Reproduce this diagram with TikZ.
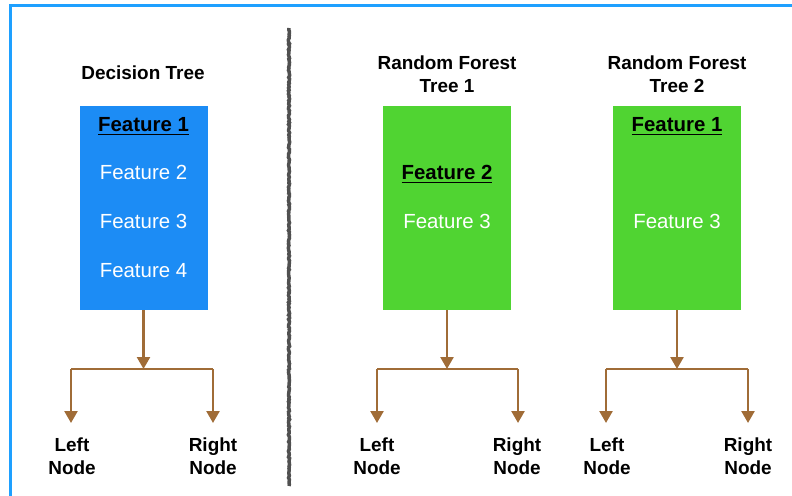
\documentclass[tikz,border=0pt]{standalone}
\usepackage{fontspec}
\setmainfont{Liberation Sans}
\usetikzlibrary{arrows.meta,decorations.pathmorphing}

\definecolor{framecol}{RGB}{30,160,255}
\definecolor{dtblue}{RGB}{28,140,245}
\definecolor{rfgreen}{RGB}{80,212,50}
\definecolor{branchbrown}{RGB}{160,108,55}
\definecolor{divgray}{RGB}{80,80,80}

% thick underline for the feature chosen at the split
\newcommand{\splitfeat}[1]{\setbox0\hbox{#1}\rlap{\rule[-3.5bp]{\wd0}{1.6bp}}\box0}

\tikzset{
	treetitle/.style={font=\bfseries\fontsize{19}{23}\selectfont, align=center, inner sep=0pt},
	treebox/.style={minimum width=128bp, minimum height=204bp, inner sep=0pt},
	feat/.style={font=\fontsize{20.5}{24}\selectfont, text=white, anchor=base, inner sep=0pt},
	bestfeat/.style={feat, font=\bfseries\fontsize{20.5}{24}\selectfont, text=black},
	leaf/.style={font=\bfseries\fontsize{19}{23}\selectfont, align=center, inner sep=0pt},
	branch/.style={draw=branchbrown, line width=2.5bp},
	brancharrow/.style={branch, -{Triangle[width=13bp,length=12bp]}},
}

\begin{document}
\begin{tikzpicture}[x=1bp, y=-1bp, line cap=butt, line join=miter]
	
	\useasboundingbox (0,0) rectangle (792,496);
	
	% ---------- frame ----------
	\draw[framecol, line width=3bp] (10,496) -- (10,6) -- (792,6);
	
	% ---------- divider ----------
	\draw[divgray, line width=3.5bp,
	decorate, decoration={random steps, segment length=1.5bp, amplitude=0.6bp}]
	(289,28) -- (289,486);
	
	% ---------- Decision tree ----------
	\node[treetitle] (dtTitle) at (143,73) {Decision Tree};
	\node[treebox, fill=dtblue] (dtBox) at (143.5,208) {};
	\node[bestfeat] (dtF1) at (143.5,132) {\splitfeat{Feature 1}};
	\node[feat] (dtF2) at (143.5,180) {Feature 2};
	\node[feat] (dtF3) at (143.5,228.5) {Feature 3};
	\node[feat] (dtF4) at (143.5,277.5) {Feature 4};
	
	% split
	\coordinate (dtSplit) at (143.5,369);
	\coordinate (dtL) at (71,369);
	\coordinate (dtR) at (213,369);
	\node[leaf] (dtLeft) at (72,456) {Left\\Node};
	\node[leaf] (dtRight) at (213,456) {Right\\Node};
	
	\draw[brancharrow] (dtBox.south) -- (dtSplit);
	\draw[branch] (dtL) -- (dtR);
	\draw[brancharrow] (dtL) -- (dtL |- 0,423);
	\draw[brancharrow] (dtR) -- (dtR |- 0,423);
	
	% ---------- Random forest, tree 1 ----------
	\node[treetitle] (rfaTitle) at (447,74) {Random Forest\\Tree 1};
	\node[treebox, fill=rfgreen] (rfaBox) at (447,208) {};
	\node[bestfeat] (rfaF2) at (447,180) {\splitfeat{Feature 2}};
	\node[feat] (rfaF3) at (447,228.5) {Feature 3};
	
	% split
	\coordinate (rfaSplit) at (447,369);
	\coordinate (rfaL) at (377,369);
	\coordinate (rfaR) at (518,369);
	\node[leaf] (rfaLeft) at (377,456) {Left\\Node};
	\node[leaf] (rfaRight) at (517,456) {Right\\Node};
	
	\draw[brancharrow] (rfaBox.south) -- (rfaSplit);
	\draw[branch] (rfaL) -- (rfaR);
	\draw[brancharrow] (rfaL) -- (rfaL |- 0,423);
	\draw[brancharrow] (rfaR) -- (rfaR |- 0,423);
	
	% ---------- Random forest, tree 2 ----------
	\node[treetitle] (rfbTitle) at (677,74) {Random Forest\\Tree 2};
	\node[treebox, fill=rfgreen] (rfbBox) at (677,208) {};
	\node[bestfeat] (rfbF1) at (677,132) {\splitfeat{Feature 1}};
	\node[feat] (rfbF3) at (677,228.5) {Feature 3};
	
	% split
	\coordinate (rfbSplit) at (677,369);
	\coordinate (rfbL) at (606,369);
	\coordinate (rfbR) at (748,369);
	\node[leaf] (rfbLeft) at (607,456) {Left\\Node};
	\node[leaf] (rfbRight) at (748,456) {Right\\Node};
	
	\draw[brancharrow] (rfbBox.south) -- (rfbSplit);
	\draw[branch] (rfbL) -- (rfbR);
	\draw[brancharrow] (rfbL) -- (rfbL |- 0,423);
	\draw[brancharrow] (rfbR) -- (rfbR |- 0,423);
	
\end{tikzpicture}
\end{document}
